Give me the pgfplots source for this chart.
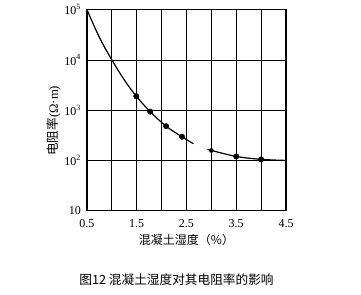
\documentclass[border=0pt]{standalone}
\usepackage{pgfplots}
\pgfplotsset{compat=1.18}
\usepackage{fontspec}
\setmainfont{Liberation Serif}
\newfontfamily\cjk{Noto Sans CJK SC}
\begin{document}
\begin{tikzpicture}
\begin{axis}[
  name=ax,
  scale only axis,
  width=149.25pt, height=150.75pt,
  xmin=0.5, xmax=4.5,
  ymode=log, ymin=10, ymax=100000,
  xtick={0.5,1,1.5,2,2.5,3,3.5,4,4.5},
  xticklabels={0.5,,1.5,,2.5,,3.5,,4.5},
  ytick={10,100,1000,10000,100000},
  yticklabels={10,10\textsuperscript{2},10\textsuperscript{3},10\textsuperscript{4},10\textsuperscript{5}},
  log basis y=10,
  major tick length=0pt,
  minor tick num=0,
  grid=major,
  major grid style={black, line width=0.6pt},
  axis line style={black, line width=0.8pt},
  tick label style={font=\fontsize{9}{10}\selectfont},
  /pgf/number format/assume math mode=true,
  xticklabel style={yshift=-3pt},
  yticklabel style={xshift=-1pt},
  xlabel={\cjk 混凝土湿度（\%）},
  xlabel style={font=\fontsize{9}{10}\selectfont, yshift=2pt},
  ylabel={{\cjk 电阻率}(Ω·m)},
  ylabel style={font=\fontsize{9.5}{10}\selectfont, yshift=-4pt, xshift=-8pt},
]
\addplot[black, line width=0.9pt, smooth, tension=0.6] coordinates {
 (0.5,100000) (0.75,28000) (1.0,10000) (1.25,4000) (1.49,1900) (1.77,935) (2.09,480) (2.41,295) (2.64,215)
};
\addplot[black, line width=0.9pt, smooth, tension=0.6] coordinates {
 (2.92,165) (3.0,158) (3.5,120) (4.0,105) (4.5,100)
};
\addplot[only marks, mark=*, mark size=2pt, black] coordinates {
 (1.49,1900) (1.77,935) (2.09,480) (2.41,295) (3.5,120) (4.0,105)
};
\addplot[only marks, mark=*, mark size=1.5pt, black] coordinates {
 (3.0,158)
};
\end{axis}
\node[font=\cjk\fontsize{9.5}{11}\selectfont, anchor=center] at ([shift={(-7.5pt,-51.75pt)}]ax.south) {图12 混凝土湿度对其电阻率的影响};
\path ([shift={(-65.25pt,-63pt)}]ax.south west) rectangle ([shift={(56.25pt,5.25pt)}]ax.north east);
\end{tikzpicture}
\end{document}
